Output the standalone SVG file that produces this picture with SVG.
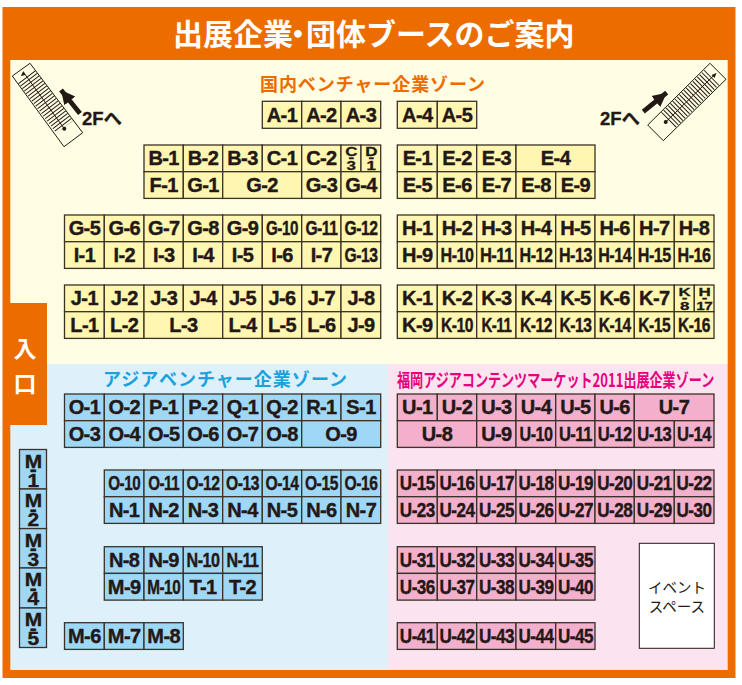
<svg xmlns="http://www.w3.org/2000/svg" width="742" height="685" viewBox="0 0 742 685">
<style>
text{font-family:"Liberation Sans","Noto Sans CJK JP",sans-serif}
.t{font-family:"Noto Sans CJK JP",sans-serif;font-weight:700}
.n rect{stroke:#3a3226;stroke-width:1.3}
.n text{font-size:20px;font-weight:700;fill:#231815;stroke:#231815;stroke-width:.4;text-anchor:middle;letter-spacing:-.6px}
.y rect{fill:#fff7b1}
.b rect{fill:#9fd7f6}
.p rect{fill:#f2b0cd}
.n text.s{font-size:16px}
.n text.m{font-size:19px}
.tread{fill:none;stroke:#231815;stroke-width:21;stroke-dasharray:1 2.15}
.ol{fill:none;stroke:#231815;stroke-width:1}
.thin{stroke:#231815;stroke-width:1}
.ar{stroke:#231815;stroke-width:4.8;marker-end:url(#h)}
.two{font-size:18.5px;font-weight:700;fill:#231815;stroke:#231815;stroke-width:.3}
</style>
<defs>
<marker id="h" markerUnits="userSpaceOnUse" markerWidth="16" markerHeight="16" refX="14" refY="8" orient="auto"><path d="M0 1 14 8 0 15Z" fill="#231815"/></marker>
</defs>
<rect width="742" height="685" fill="#fff"/>
<rect x="2.5" y="7" width="733" height="671" fill="#ec6c00"/>
<rect x="10.3" y="60" width="717.4" height="304" fill="#fffde3"/>
<rect x="10.3" y="364" width="378" height="306" fill="#def1fb"/>
<rect x="388" y="364" width="339.7" height="306" fill="#fbe4ef"/>
<rect x="10" y="303" width="37" height="122" fill="#ec6c00"/>
<text class="t" font-size="30" fill="#fff" x="173" y="45">出展企業<tspan x="283">・</tspan><tspan x="306">団体ブースのご案内</tspan></text>
<text class="t" font-size="23" fill="#fff" x="25" y="357" text-anchor="middle">入</text>
<text class="t" font-size="23" fill="#fff" x="25" y="392" text-anchor="middle">口</text>
<text class="t" font-size="18" fill="#ec6c00" x="260" y="91" textLength="225" lengthAdjust="spacing">国内ベンチャー企業ゾーン</text>
<text class="t" font-size="18" fill="#1ba1db" x="103" y="386" textLength="244" lengthAdjust="spacing">アジアベンチャー企業ゾーン</text>
<text class="t" font-size="18" fill="#e6007e" transform="translate(397 387) scale(.727 1)">福岡アジアコンテンツマーケット2011出展企業ゾーン</text>

<g id="stairs-left">
<polygon class="ol" points="12.3,76 30,63.3 82.7,132.7 64,146.7"/>
<line class="tread" x1="26.6" y1="76.8" x2="64.8" y2="127"/>
<line class="thin" x1="23.3" y1="72" x2="64.3" y2="128.7"/>
<polygon points="23.3,71 20.8,76 25.4,75" fill="#231815"/>
<circle cx="64.3" cy="128.7" r="2" fill="#231815"/>
</g>
<g id="stairs-right">
<polygon class="ol" points="710,63.3 726,79.3 663.3,140.7 647.7,125"/>
<line class="tread" x1="711.8" y1="77.4" x2="667" y2="121.5"/>
<line class="thin" x1="715.7" y1="73.7" x2="665.7" y2="122"/>
<polygon points="716.5,73 711.5,75 714.5,78" fill="#231815"/>
<circle cx="665.7" cy="122" r="2" fill="#231815"/>
</g>
<g id="connectors">
<line class="ar" x1="80" y1="113.5" x2="61" y2="90"/>
<line class="ar" x1="643.3" y1="111.7" x2="666.7" y2="92.7"/>
</g>
<text class="two" x="82" y="125">2F<tspan class="t">へ</tspan></text>
<text class="two" x="600" y="125">2F<tspan class="t">へ</tspan></text>

<g class="n y">
<g id="A-1"><rect x="262.3" y="101.3" width="39.4" height="27"/><text x="282" y="121.5">A-1</text></g>
<g id="A-2"><rect x="301.7" y="101.3" width="39.3" height="27"/><text x="321.4" y="121.5">A-2</text></g>
<g id="A-3"><rect x="341" y="101.3" width="39.7" height="27"/><text x="361" y="121.5">A-3</text></g>
<g id="A-4"><rect x="397.3" y="101.3" width="40" height="27"/><text x="417.3" y="121.5">A-4</text></g>
<g id="A-5"><rect x="437.3" y="101.3" width="39.4" height="27"/><text x="457" y="121.5">A-5</text></g>

<g id="B-1"><rect x="144" y="145" width="39.3" height="26.7"/><text x="163.7" y="165">B-1</text></g>
<g id="B-2"><rect x="183.3" y="145" width="39.4" height="26.7"/><text x="203" y="165">B-2</text></g>
<g id="B-3"><rect x="222.7" y="145" width="39.6" height="26.7"/><text x="242.5" y="165">B-3</text></g>
<g id="C-1"><rect x="262.3" y="145" width="39.4" height="26.7"/><text x="282" y="165">C-1</text></g>
<g id="C-2"><rect x="301.7" y="145" width="39.3" height="26.7"/><text x="321.4" y="165">C-2</text></g>
<g id="C-3"><rect x="341" y="145" width="20" height="26.7"/><text class="s" transform="translate(351 145) scale(1.06 .78)"><tspan x="0" y="14">C</tspan><tspan x="0" y="22">-</tspan><tspan x="0" y="32">3</tspan></text></g>
<g id="D-1"><rect x="361" y="145" width="19.7" height="26.7"/><text class="s" transform="translate(371 145) scale(1.06 .78)"><tspan x="0" y="14">D</tspan><tspan x="0" y="22">-</tspan><tspan x="0" y="32">1</tspan></text></g>
<g id="F-1"><rect x="144" y="171.7" width="39.3" height="26.7"/><text x="163.7" y="191.8">F-1</text></g>
<g id="G-1"><rect x="183.3" y="171.7" width="39.4" height="26.7"/><text x="203" y="191.8">G-1</text></g>
<g id="G-2"><rect x="222.7" y="171.7" width="79" height="26.7"/><text x="262" y="191.8">G-2</text></g>
<g id="G-3"><rect x="301.7" y="171.7" width="39.3" height="26.7"/><text x="321.4" y="191.8">G-3</text></g>
<g id="G-4"><rect x="341" y="171.7" width="39.7" height="26.7"/><text x="361" y="191.8">G-4</text></g>
<g id="E-1"><rect x="397.3" y="145" width="40" height="26.7"/><text x="417.3" y="165">E-1</text></g>
<g id="E-2"><rect x="437.3" y="145" width="39.4" height="26.7"/><text x="457" y="165">E-2</text></g>
<g id="E-3"><rect x="476.7" y="145" width="39.3" height="26.7"/><text x="496.4" y="165">E-3</text></g>
<g id="E-4"><rect x="516" y="145" width="79" height="26.7"/><text x="555.5" y="165">E-4</text></g>
<g id="E-5"><rect x="397.3" y="171.7" width="40" height="26.7"/><text x="417.3" y="191.8">E-5</text></g>
<g id="E-6"><rect x="437.3" y="171.7" width="39.4" height="26.7"/><text x="457" y="191.8">E-6</text></g>
<g id="E-7"><rect x="476.7" y="171.7" width="39.3" height="26.7"/><text x="496.4" y="191.8">E-7</text></g>
<g id="E-8"><rect x="516" y="171.7" width="39.7" height="26.7"/><text x="536" y="191.8">E-8</text></g>
<g id="E-9"><rect x="555.7" y="171.7" width="39.3" height="26.7"/><text x="575.4" y="191.8">E-9</text></g>

<g id="G-5"><rect x="64.5" y="215" width="39.8" height="26.7"/><text x="84.4" y="235">G-5</text></g>
<g id="G-6"><rect x="104.3" y="215" width="39.7" height="26.7"/><text x="124.2" y="235">G-6</text></g>
<g id="G-7"><rect x="144" y="215" width="39.3" height="26.7"/><text x="163.7" y="235">G-7</text></g>
<g id="G-8"><rect x="183.3" y="215" width="39.4" height="26.7"/><text x="203" y="235">G-8</text></g>
<g id="G-9"><rect x="222.7" y="215" width="39.6" height="26.7"/><text x="242.5" y="235">G-9</text></g>
<g id="G-10"><rect x="262.3" y="215" width="39.4" height="26.7"/><text x="282" y="235" textLength="32" lengthAdjust="spacingAndGlyphs">G-10</text></g>
<g id="G-11"><rect x="301.7" y="215" width="39.3" height="26.7"/><text x="321.4" y="235" textLength="32" lengthAdjust="spacingAndGlyphs">G-11</text></g>
<g id="G-12"><rect x="341" y="215" width="39.7" height="26.7"/><text x="361" y="235" textLength="33" lengthAdjust="spacingAndGlyphs">G-12</text></g>
<g id="I-1"><rect x="64.5" y="241.7" width="39.8" height="26.7"/><text x="84.4" y="261.8">I-1</text></g>
<g id="I-2"><rect x="104.3" y="241.7" width="39.7" height="26.7"/><text x="124.2" y="261.8">I-2</text></g>
<g id="I-3"><rect x="144" y="241.7" width="39.3" height="26.7"/><text x="163.7" y="261.8">I-3</text></g>
<g id="I-4"><rect x="183.3" y="241.7" width="39.4" height="26.7"/><text x="203" y="261.8">I-4</text></g>
<g id="I-5"><rect x="222.7" y="241.7" width="39.6" height="26.7"/><text x="242.5" y="261.8">I-5</text></g>
<g id="I-6"><rect x="262.3" y="241.7" width="39.4" height="26.7"/><text x="282" y="261.8">I-6</text></g>
<g id="I-7"><rect x="301.7" y="241.7" width="39.3" height="26.7"/><text x="321.4" y="261.8">I-7</text></g>
<g id="G-13"><rect x="341" y="241.7" width="39.7" height="26.7"/><text x="361" y="261.8" textLength="33" lengthAdjust="spacingAndGlyphs">G-13</text></g>

<g id="H-1"><rect x="397.3" y="215" width="40" height="26.7"/><text x="417.3" y="235">H-1</text></g>
<g id="H-2"><rect x="437.3" y="215" width="39.4" height="26.7"/><text x="457" y="235">H-2</text></g>
<g id="H-3"><rect x="476.7" y="215" width="39.3" height="26.7"/><text x="496.4" y="235">H-3</text></g>
<g id="H-4"><rect x="516" y="215" width="39.7" height="26.7"/><text x="536" y="235">H-4</text></g>
<g id="H-5"><rect x="555.7" y="215" width="39.3" height="26.7"/><text x="575.4" y="235">H-5</text></g>
<g id="H-6"><rect x="595" y="215" width="39.3" height="26.7"/><text x="614.7" y="235">H-6</text></g>
<g id="H-7"><rect x="634.3" y="215" width="40" height="26.7"/><text x="654.3" y="235">H-7</text></g>
<g id="H-8"><rect x="674.3" y="215" width="39.7" height="26.7"/><text x="694" y="235">H-8</text></g>
<g id="H-9"><rect x="397.3" y="241.7" width="40" height="26.7"/><text x="417.3" y="261.8">H-9</text></g>
<g id="H-10"><rect x="437.3" y="241.7" width="39.4" height="26.7"/><text x="457" y="261.8" textLength="33" lengthAdjust="spacingAndGlyphs">H-10</text></g>
<g id="H-11"><rect x="476.7" y="241.7" width="39.3" height="26.7"/><text x="496.4" y="261.8" textLength="33" lengthAdjust="spacingAndGlyphs">H-11</text></g>
<g id="H-12"><rect x="516" y="241.7" width="39.7" height="26.7"/><text x="536" y="261.8" textLength="33" lengthAdjust="spacingAndGlyphs">H-12</text></g>
<g id="H-13"><rect x="555.7" y="241.7" width="39.3" height="26.7"/><text x="575.4" y="261.8" textLength="33" lengthAdjust="spacingAndGlyphs">H-13</text></g>
<g id="H-14"><rect x="595" y="241.7" width="39.3" height="26.7"/><text x="614.7" y="261.8" textLength="33" lengthAdjust="spacingAndGlyphs">H-14</text></g>
<g id="H-15"><rect x="634.3" y="241.7" width="40" height="26.7"/><text x="654.3" y="261.8" textLength="33" lengthAdjust="spacingAndGlyphs">H-15</text></g>
<g id="H-16"><rect x="674.3" y="241.7" width="39.7" height="26.7"/><text x="694" y="261.8" textLength="33" lengthAdjust="spacingAndGlyphs">H-16</text></g>

<g id="J-1"><rect x="64.5" y="285" width="39.8" height="26.7"/><text x="84.4" y="305">J-1</text></g>
<g id="J-2"><rect x="104.3" y="285" width="39.7" height="26.7"/><text x="124.2" y="305">J-2</text></g>
<g id="J-3"><rect x="144" y="285" width="39.3" height="26.7"/><text x="163.7" y="305">J-3</text></g>
<g id="J-4"><rect x="183.3" y="285" width="39.4" height="26.7"/><text x="203" y="305">J-4</text></g>
<g id="J-5"><rect x="222.7" y="285" width="39.6" height="26.7"/><text x="242.5" y="305">J-5</text></g>
<g id="J-6"><rect x="262.3" y="285" width="39.4" height="26.7"/><text x="282" y="305">J-6</text></g>
<g id="J-7"><rect x="301.7" y="285" width="39.3" height="26.7"/><text x="321.4" y="305">J-7</text></g>
<g id="J-8"><rect x="341" y="285" width="39.7" height="26.7"/><text x="361" y="305">J-8</text></g>
<g id="L-1"><rect x="64.5" y="311.7" width="39.8" height="26.7"/><text x="84.4" y="331.8">L-1</text></g>
<g id="L-2"><rect x="104.3" y="311.7" width="39.7" height="26.7"/><text x="124.2" y="331.8">L-2</text></g>
<g id="L-3"><rect x="144" y="311.7" width="78.7" height="26.7"/><text x="183.4" y="331.8">L-3</text></g>
<g id="L-4"><rect x="222.7" y="311.7" width="39.6" height="26.7"/><text x="242.5" y="331.8">L-4</text></g>
<g id="L-5"><rect x="262.3" y="311.7" width="39.4" height="26.7"/><text x="282" y="331.8">L-5</text></g>
<g id="L-6"><rect x="301.7" y="311.7" width="39.3" height="26.7"/><text x="321.4" y="331.8">L-6</text></g>
<g id="J-9"><rect x="341" y="311.7" width="39.7" height="26.7"/><text x="361" y="331.8">J-9</text></g>

<g id="K-1"><rect x="397.3" y="285" width="40" height="26.7"/><text x="417.3" y="305">K-1</text></g>
<g id="K-2"><rect x="437.3" y="285" width="39.4" height="26.7"/><text x="457" y="305">K-2</text></g>
<g id="K-3"><rect x="476.7" y="285" width="39.3" height="26.7"/><text x="496.4" y="305">K-3</text></g>
<g id="K-4"><rect x="516" y="285" width="39.7" height="26.7"/><text x="536" y="305">K-4</text></g>
<g id="K-5"><rect x="555.7" y="285" width="39.3" height="26.7"/><text x="575.4" y="305">K-5</text></g>
<g id="K-6"><rect x="595" y="285" width="39.3" height="26.7"/><text x="614.7" y="305">K-6</text></g>
<g id="K-7"><rect x="634.3" y="285" width="40" height="26.7"/><text x="654.3" y="305">K-7</text></g>
<g id="K-8"><rect x="674.3" y="285" width="20" height="26.7"/><text class="s" transform="translate(684.3 285) scale(1.06 .72)"><tspan x="0" y="15">K</tspan><tspan x="0" y="22">-</tspan><tspan x="0" y="35">8</tspan></text></g>
<g id="H-17"><rect x="694.3" y="285" width="19.7" height="26.7"/><text class="s" transform="translate(704.2 285) scale(1.06 .72)"><tspan x="0" y="15">H</tspan><tspan x="0" y="22">-</tspan><tspan x="0" y="35" textLength="15" lengthAdjust="spacingAndGlyphs">17</tspan></text></g>
<g id="K-9"><rect x="397.3" y="311.7" width="40" height="26.7"/><text x="417.3" y="331.8">K-9</text></g>
<g id="K-10"><rect x="437.3" y="311.7" width="39.4" height="26.7"/><text x="457" y="331.8" textLength="32" lengthAdjust="spacingAndGlyphs">K-10</text></g>
<g id="K-11"><rect x="476.7" y="311.7" width="39.3" height="26.7"/><text x="496.4" y="331.8" textLength="30" lengthAdjust="spacingAndGlyphs">K-11</text></g>
<g id="K-12"><rect x="516" y="311.7" width="39.7" height="26.7"/><text x="536" y="331.8" textLength="32" lengthAdjust="spacingAndGlyphs">K-12</text></g>
<g id="K-13"><rect x="555.7" y="311.7" width="39.3" height="26.7"/><text x="575.4" y="331.8" textLength="32" lengthAdjust="spacingAndGlyphs">K-13</text></g>
<g id="K-14"><rect x="595" y="311.7" width="39.3" height="26.7"/><text x="614.7" y="331.8" textLength="32" lengthAdjust="spacingAndGlyphs">K-14</text></g>
<g id="K-15"><rect x="634.3" y="311.7" width="40" height="26.7"/><text x="654.3" y="331.8" textLength="32" lengthAdjust="spacingAndGlyphs">K-15</text></g>
<g id="K-16"><rect x="674.3" y="311.7" width="39.7" height="26.7"/><text x="694" y="331.8" textLength="32" lengthAdjust="spacingAndGlyphs">K-16</text></g>
</g>

<g class="n b">
<g id="O-1"><rect x="64.5" y="394" width="39.8" height="26.7"/><text x="84.4" y="414">O-1</text></g>
<g id="O-2"><rect x="104.3" y="394" width="39.7" height="26.7"/><text x="124.2" y="414">O-2</text></g>
<g id="P-1"><rect x="144" y="394" width="39.3" height="26.7"/><text x="163.7" y="414">P-1</text></g>
<g id="P-2"><rect x="183.3" y="394" width="39.4" height="26.7"/><text x="203" y="414">P-2</text></g>
<g id="Q-1"><rect x="222.7" y="394" width="39.6" height="26.7"/><text x="242.5" y="414">Q-1</text></g>
<g id="Q-2"><rect x="262.3" y="394" width="39.4" height="26.7"/><text x="282" y="414">Q-2</text></g>
<g id="R-1"><rect x="301.7" y="394" width="39.3" height="26.7"/><text x="321.4" y="414">R-1</text></g>
<g id="S-1"><rect x="341" y="394" width="39.7" height="26.7"/><text x="361" y="414">S-1</text></g>
<g id="O-3"><rect x="64.5" y="420.7" width="39.8" height="26.7"/><text x="84.4" y="440.8">O-3</text></g>
<g id="O-4"><rect x="104.3" y="420.7" width="39.7" height="26.7"/><text x="124.2" y="440.8">O-4</text></g>
<g id="O-5"><rect x="144" y="420.7" width="39.3" height="26.7"/><text x="163.7" y="440.8">O-5</text></g>
<g id="O-6"><rect x="183.3" y="420.7" width="39.4" height="26.7"/><text x="203" y="440.8">O-6</text></g>
<g id="O-7"><rect x="222.7" y="420.7" width="39.6" height="26.7"/><text x="242.5" y="440.8">O-7</text></g>
<g id="O-8"><rect x="262.3" y="420.7" width="39.4" height="26.7"/><text x="282" y="440.8">O-8</text></g>
<g id="O-9"><rect x="301.7" y="420.7" width="79" height="26.7"/><text x="341" y="440.8">O-9</text></g>

<g id="O-10"><rect x="104.3" y="470" width="39.7" height="26.7"/><text x="124.2" y="490" textLength="32" lengthAdjust="spacingAndGlyphs">O-10</text></g>
<g id="O-11"><rect x="144" y="470" width="39.3" height="26.7"/><text x="163.7" y="490" textLength="31" lengthAdjust="spacingAndGlyphs">O-11</text></g>
<g id="O-12"><rect x="183.3" y="470" width="39.4" height="26.7"/><text x="203" y="490" textLength="33" lengthAdjust="spacingAndGlyphs">O-12</text></g>
<g id="O-13"><rect x="222.7" y="470" width="39.6" height="26.7"/><text x="242.5" y="490" textLength="33" lengthAdjust="spacingAndGlyphs">O-13</text></g>
<g id="O-14"><rect x="262.3" y="470" width="39.4" height="26.7"/><text x="282" y="490" textLength="33" lengthAdjust="spacingAndGlyphs">O-14</text></g>
<g id="O-15"><rect x="301.7" y="470" width="39.3" height="26.7"/><text x="321.4" y="490" textLength="33" lengthAdjust="spacingAndGlyphs">O-15</text></g>
<g id="O-16"><rect x="341" y="470" width="39.7" height="26.7"/><text x="361" y="490" textLength="33" lengthAdjust="spacingAndGlyphs">O-16</text></g>
<g id="N-1"><rect x="104.3" y="496.7" width="39.7" height="26.7"/><text x="124.2" y="516.8">N-1</text></g>
<g id="N-2"><rect x="144" y="496.7" width="39.3" height="26.7"/><text x="163.7" y="516.8">N-2</text></g>
<g id="N-3"><rect x="183.3" y="496.7" width="39.4" height="26.7"/><text x="203" y="516.8">N-3</text></g>
<g id="N-4"><rect x="222.7" y="496.7" width="39.6" height="26.7"/><text x="242.5" y="516.8">N-4</text></g>
<g id="N-5"><rect x="262.3" y="496.7" width="39.4" height="26.7"/><text x="282" y="516.8">N-5</text></g>
<g id="N-6"><rect x="301.7" y="496.7" width="39.3" height="26.7"/><text x="321.4" y="516.8">N-6</text></g>
<g id="N-7"><rect x="341" y="496.7" width="39.7" height="26.7"/><text x="361" y="516.8">N-7</text></g>

<g id="N-8"><rect x="104.3" y="546.7" width="39.7" height="26.7"/><text x="124.2" y="566.8">N-8</text></g>
<g id="N-9"><rect x="144" y="546.7" width="39.3" height="26.7"/><text x="163.7" y="566.8">N-9</text></g>
<g id="N-10"><rect x="183.3" y="546.7" width="39.4" height="26.7"/><text x="203" y="566.8" textLength="33" lengthAdjust="spacingAndGlyphs">N-10</text></g>
<g id="N-11"><rect x="222.7" y="546.7" width="39.6" height="26.7"/><text x="242.5" y="566.8" textLength="32" lengthAdjust="spacingAndGlyphs">N-11</text></g>
<g id="M-9"><rect x="104.3" y="573.4" width="39.7" height="26.7"/><text x="124.2" y="593.5">M-9</text></g>
<g id="M-10"><rect x="144" y="573.4" width="39.3" height="26.7"/><text x="163.7" y="593.5" textLength="33" lengthAdjust="spacingAndGlyphs">M-10</text></g>
<g id="T-1"><rect x="183.3" y="573.4" width="39.4" height="26.7"/><text x="203" y="593.5">T-1</text></g>
<g id="T-2"><rect x="222.7" y="573.4" width="39.6" height="26.7"/><text x="242.5" y="593.5">T-2</text></g>

<g id="M-6"><rect x="64.5" y="622.7" width="39.8" height="26.7"/><text x="84.4" y="642.8">M-6</text></g>
<g id="M-7"><rect x="104.3" y="622.7" width="39.7" height="26.7"/><text x="124.2" y="642.8">M-7</text></g>
<g id="M-8"><rect x="144" y="622.7" width="39.3" height="26.7"/><text x="163.7" y="642.8">M-8</text></g>

<g id="M-1"><rect x="19.5" y="449.5" width="27" height="39.5"/><text class="m" transform="translate(33 449.5) scale(1.1 .95)"><tspan x="0" y="19.4">M</tspan><tspan x="0" y="28">-</tspan><tspan x="0" y="39">1</tspan></text></g>
<g id="M-2"><rect x="19.5" y="489" width="27" height="39.6"/><text class="m" transform="translate(33 489) scale(1.1 .95)"><tspan x="0" y="19.4">M</tspan><tspan x="0" y="28">-</tspan><tspan x="0" y="39">2</tspan></text></g>
<g id="M-3"><rect x="19.5" y="528.6" width="27" height="39.4"/><text class="m" transform="translate(33 528.6) scale(1.1 .95)"><tspan x="0" y="19.4">M</tspan><tspan x="0" y="28">-</tspan><tspan x="0" y="39">3</tspan></text></g>
<g id="M-4"><rect x="19.5" y="568" width="27" height="40"/><text class="m" transform="translate(33 568) scale(1.1 .95)"><tspan x="0" y="19.4">M</tspan><tspan x="0" y="28">-</tspan><tspan x="0" y="39">4</tspan></text></g>
<g id="M-5"><rect x="19.5" y="608" width="27" height="39.5"/><text class="m" transform="translate(33 608) scale(1.1 .95)"><tspan x="0" y="19.4">M</tspan><tspan x="0" y="28">-</tspan><tspan x="0" y="39">5</tspan></text></g>
</g>

<g class="n p">
<g id="U-1"><rect x="397.3" y="394" width="40" height="26.7"/><text x="417.3" y="414">U-1</text></g>
<g id="U-2"><rect x="437.3" y="394" width="39.4" height="26.7"/><text x="457" y="414">U-2</text></g>
<g id="U-3"><rect x="476.7" y="394" width="39.3" height="26.7"/><text x="496.4" y="414">U-3</text></g>
<g id="U-4"><rect x="516" y="394" width="39.7" height="26.7"/><text x="536" y="414">U-4</text></g>
<g id="U-5"><rect x="555.7" y="394" width="39.3" height="26.7"/><text x="575.4" y="414">U-5</text></g>
<g id="U-6"><rect x="595" y="394" width="39.3" height="26.7"/><text x="614.7" y="414">U-6</text></g>
<g id="U-7"><rect x="634.3" y="394" width="79.7" height="26.7"/><text x="674" y="414">U-7</text></g>
<g id="U-8"><rect x="397.3" y="420.7" width="79.4" height="26.7"/><text x="437" y="440.8">U-8</text></g>
<g id="U-9"><rect x="476.7" y="420.7" width="39.3" height="26.7"/><text x="496.4" y="440.8">U-9</text></g>
<g id="U-10"><rect x="516" y="420.7" width="39.7" height="26.7"/><text x="536" y="440.8" textLength="33" lengthAdjust="spacingAndGlyphs">U-10</text></g>
<g id="U-11"><rect x="555.7" y="420.7" width="39.3" height="26.7"/><text x="575.4" y="440.8" textLength="33" lengthAdjust="spacingAndGlyphs">U-11</text></g>
<g id="U-12"><rect x="595" y="420.7" width="39.3" height="26.7"/><text x="614.7" y="440.8" textLength="34" lengthAdjust="spacingAndGlyphs">U-12</text></g>
<g id="U-13"><rect x="634.3" y="420.7" width="40" height="26.7"/><text x="654.3" y="440.8" textLength="34" lengthAdjust="spacingAndGlyphs">U-13</text></g>
<g id="U-14"><rect x="674.3" y="420.7" width="39.7" height="26.7"/><text x="694" y="440.8" textLength="34" lengthAdjust="spacingAndGlyphs">U-14</text></g>

<g id="U-15"><rect x="397.3" y="470" width="40" height="26.7"/><text x="417.3" y="490" textLength="35" lengthAdjust="spacingAndGlyphs">U-15</text></g>
<g id="U-16"><rect x="437.3" y="470" width="39.4" height="26.7"/><text x="457" y="490" textLength="35" lengthAdjust="spacingAndGlyphs">U-16</text></g>
<g id="U-17"><rect x="476.7" y="470" width="39.3" height="26.7"/><text x="496.4" y="490" textLength="35" lengthAdjust="spacingAndGlyphs">U-17</text></g>
<g id="U-18"><rect x="516" y="470" width="39.7" height="26.7"/><text x="536" y="490" textLength="35" lengthAdjust="spacingAndGlyphs">U-18</text></g>
<g id="U-19"><rect x="555.7" y="470" width="39.3" height="26.7"/><text x="575.4" y="490" textLength="35" lengthAdjust="spacingAndGlyphs">U-19</text></g>
<g id="U-20"><rect x="595" y="470" width="39.3" height="26.7"/><text x="614.7" y="490" textLength="35" lengthAdjust="spacingAndGlyphs">U-20</text></g>
<g id="U-21"><rect x="634.3" y="470" width="40" height="26.7"/><text x="654.3" y="490" textLength="35" lengthAdjust="spacingAndGlyphs">U-21</text></g>
<g id="U-22"><rect x="674.3" y="470" width="39.7" height="26.7"/><text x="694" y="490" textLength="35" lengthAdjust="spacingAndGlyphs">U-22</text></g>
<g id="U-23"><rect x="397.3" y="496.7" width="40" height="26.7"/><text x="417.3" y="516.8" textLength="35" lengthAdjust="spacingAndGlyphs">U-23</text></g>
<g id="U-24"><rect x="437.3" y="496.7" width="39.4" height="26.7"/><text x="457" y="516.8" textLength="35" lengthAdjust="spacingAndGlyphs">U-24</text></g>
<g id="U-25"><rect x="476.7" y="496.7" width="39.3" height="26.7"/><text x="496.4" y="516.8" textLength="35" lengthAdjust="spacingAndGlyphs">U-25</text></g>
<g id="U-26"><rect x="516" y="496.7" width="39.7" height="26.7"/><text x="536" y="516.8" textLength="35" lengthAdjust="spacingAndGlyphs">U-26</text></g>
<g id="U-27"><rect x="555.7" y="496.7" width="39.3" height="26.7"/><text x="575.4" y="516.8" textLength="35" lengthAdjust="spacingAndGlyphs">U-27</text></g>
<g id="U-28"><rect x="595" y="496.7" width="39.3" height="26.7"/><text x="614.7" y="516.8" textLength="35" lengthAdjust="spacingAndGlyphs">U-28</text></g>
<g id="U-29"><rect x="634.3" y="496.7" width="40" height="26.7"/><text x="654.3" y="516.8" textLength="35" lengthAdjust="spacingAndGlyphs">U-29</text></g>
<g id="U-30"><rect x="674.3" y="496.7" width="39.7" height="26.7"/><text x="694" y="516.8" textLength="35" lengthAdjust="spacingAndGlyphs">U-30</text></g>

<g id="U-31"><rect x="397.3" y="546.7" width="40" height="26.7"/><text x="417.3" y="566.8" textLength="35" lengthAdjust="spacingAndGlyphs">U-31</text></g>
<g id="U-32"><rect x="437.3" y="546.7" width="39.4" height="26.7"/><text x="457" y="566.8" textLength="35" lengthAdjust="spacingAndGlyphs">U-32</text></g>
<g id="U-33"><rect x="476.7" y="546.7" width="39.3" height="26.7"/><text x="496.4" y="566.8" textLength="35" lengthAdjust="spacingAndGlyphs">U-33</text></g>
<g id="U-34"><rect x="516" y="546.7" width="39.7" height="26.7"/><text x="536" y="566.8" textLength="35" lengthAdjust="spacingAndGlyphs">U-34</text></g>
<g id="U-35"><rect x="555.7" y="546.7" width="39.3" height="26.7"/><text x="575.4" y="566.8" textLength="35" lengthAdjust="spacingAndGlyphs">U-35</text></g>
<g id="U-36"><rect x="397.3" y="573.4" width="40" height="26.7"/><text x="417.3" y="593.5" textLength="35" lengthAdjust="spacingAndGlyphs">U-36</text></g>
<g id="U-37"><rect x="437.3" y="573.4" width="39.4" height="26.7"/><text x="457" y="593.5" textLength="35" lengthAdjust="spacingAndGlyphs">U-37</text></g>
<g id="U-38"><rect x="476.7" y="573.4" width="39.3" height="26.7"/><text x="496.4" y="593.5" textLength="35" lengthAdjust="spacingAndGlyphs">U-38</text></g>
<g id="U-39"><rect x="516" y="573.4" width="39.7" height="26.7"/><text x="536" y="593.5" textLength="35" lengthAdjust="spacingAndGlyphs">U-39</text></g>
<g id="U-40"><rect x="555.7" y="573.4" width="39.3" height="26.7"/><text x="575.4" y="593.5" textLength="35" lengthAdjust="spacingAndGlyphs">U-40</text></g>

<g id="U-41"><rect x="397.3" y="622.7" width="40" height="26.7"/><text x="417.3" y="642.8" textLength="35" lengthAdjust="spacingAndGlyphs">U-41</text></g>
<g id="U-42"><rect x="437.3" y="622.7" width="39.4" height="26.7"/><text x="457" y="642.8" textLength="35" lengthAdjust="spacingAndGlyphs">U-42</text></g>
<g id="U-43"><rect x="476.7" y="622.7" width="39.3" height="26.7"/><text x="496.4" y="642.8" textLength="35" lengthAdjust="spacingAndGlyphs">U-43</text></g>
<g id="U-44"><rect x="516" y="622.7" width="39.7" height="26.7"/><text x="536" y="642.8" textLength="35" lengthAdjust="spacingAndGlyphs">U-44</text></g>
<g id="U-45"><rect x="555.7" y="622.7" width="39.3" height="26.7"/><text x="575.4" y="642.8" textLength="35" lengthAdjust="spacingAndGlyphs">U-45</text></g>
</g>

<g id="event-space">
<rect x="639.3" y="543.3" width="75" height="105" fill="#fff" stroke="#231815" stroke-width="1"/>
<text font-size="14.5" fill="#231815" text-anchor="middle" style="font-family:'Noto Sans CJK JP',sans-serif"><tspan x="677" y="593">イベント</tspan><tspan x="677" y="612">スペース</tspan></text>
</g>
</svg>
